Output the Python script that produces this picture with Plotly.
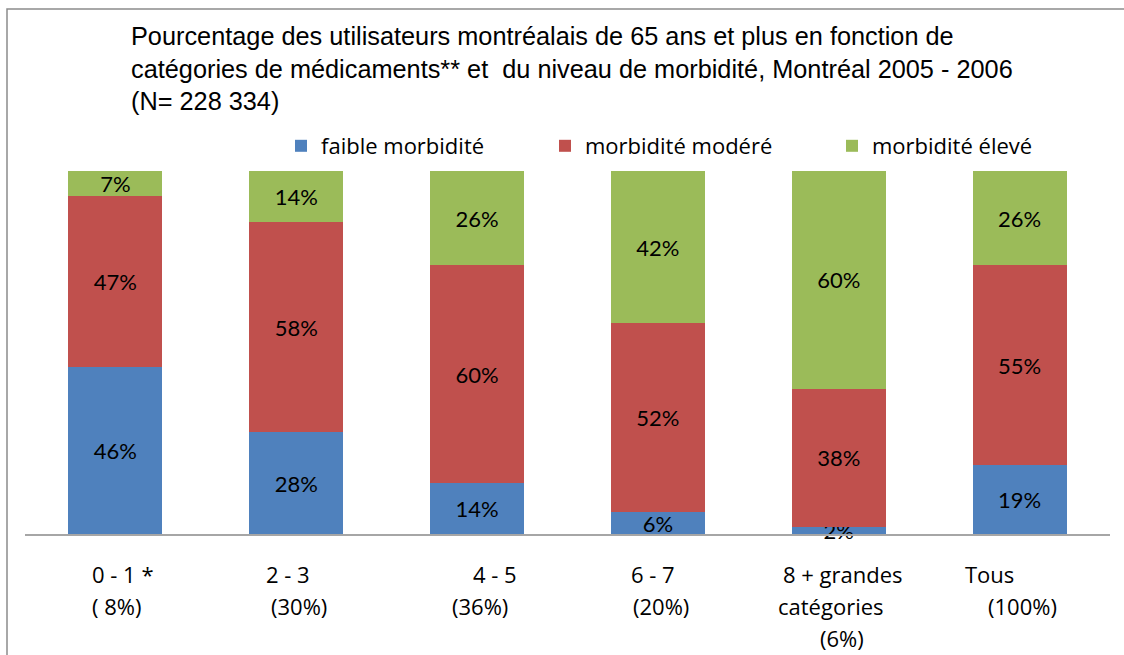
import plotly.graph_objects as go

categories = ["0 - 1 *", "2 - 3", "4 - 5", "6 - 7", "8 + grandes", "Tous"]
faible = [46, 28, 14, 6, 2, 19]
modere = [47, 58, 60, 52, 38, 55]
eleve = [7, 14, 26, 42, 60, 26]
series_names = ["faible morbidité", "morbidité modéré", "morbidité élevé"]
label_line1 = ["0 - 1 *", "2 - 3", "4 - 5", "6 - 7", "8 + grandes", "Tous"]
label_line2 = ["( 8%)", "(30%)", "(36%)", "(20%)", "catégories", "(100%)"]
label_line3 = ["", "", "", "", "(6%)", ""]
title_lines = [
    "Pourcentage des utilisateurs montréalais de 65 ans et plus en fonction de",
    "catégories de médicaments** et  du niveau de morbidité, Montréal 2005 - 2006",
    "(N= 228 334)",
]

colors = ["#4F81BD", "#C0504D", "#9BBB59"]
VAL_FONT = "Lato, 'Open Sans', sans-serif"
LABEL_FONT = "'Open Sans', Lato, sans-serif"

fig = go.Figure()
for i, (name, vals) in enumerate(zip(series_names, [faible, modere, eleve])):
    fig.add_trace(go.Bar(
        x=categories, y=vals, name=name,
        marker=dict(color=colors[i], line=dict(width=0)),
        text=[f"{v}%" for v in vals],
        textposition="inside", insidetextanchor="middle",
        constraintext="none", textangle=0, cliponaxis=False,
        textfont=dict(family=VAL_FONT, size=22, color="black"),
        legend=["legend", "legend2", "legend3"][i],
        hoverinfo="skip",
    ))

# x offsets (px) of each label line relative to category centre
off1 = [-25, -32, -6, -29, -58, -57]
off2 = [-25, -27, -27, -27, -63, -34]
off3 = [0, 0, 0, 0, -21, 0]
annotations = []
for lines, offs, ys in [(label_line1, off1, -40), (label_line2, off2, -72), (label_line3, off3, -104)]:
    for c, t, o in zip(categories, lines, offs):
        if not t:
            continue
        annotations.append(dict(
            x=c, xref="x", y=0, yref="paper", xshift=o, yshift=ys,
            text=t, showarrow=False, xanchor="left", yanchor="middle",
            font=dict(family=LABEL_FONT, size=22, color="black"),
        ))

for t, ys in zip(title_lines, [135, 102, 70]):
    annotations.append(dict(
        x=(129 - 25) / 1085, xref="paper", y=1, yref="paper", yshift=ys,
        text=t, showarrow=False, xanchor="left", yanchor="middle",
        font=dict(family="'Liberation Sans', Arial, sans-serif", size=25.3, color="black"),
    ))

leg_common = dict(orientation="h", yanchor="middle", y=1 + (171 - 146) / 363,
                  xanchor="left", bgcolor="rgba(0,0,0,0)", borderwidth=0,
                  font=dict(family=LABEL_FONT, size=22, color="black"),
                  itemwidth=30)
leg_x = [(293 - 25 - 12) / 1085, (557 - 25 - 12) / 1085, (844 - 25 - 12) / 1085]

fig.update_layout(
    barmode="stack",
    bargap=0.48,
    width=1124, height=655,
    margin=dict(l=25, r=14, t=171, b=121),
    paper_bgcolor="white", plot_bgcolor="white",
    showlegend=True,
    legend=dict(leg_common, x=leg_x[0]),
    legend2=dict(leg_common, x=leg_x[1]),
    legend3=dict(leg_common, x=leg_x[2]),
    xaxis=dict(showticklabels=False, showline=True, linecolor="#A6A6A6", linewidth=1.5,
               ticks="", showgrid=False, zeroline=False),
    yaxis=dict(range=[0, 100], visible=False, showgrid=False, zeroline=False),
    annotations=annotations,
    shapes=[dict(type="rect", xref="paper", yref="paper",
                 x0=(7 - 25) / 1085, x1=(1135 - 25) / 1085,
                 y0=-0.5, y1=(534 - 9) / 363,
                 line=dict(color="#8C8C8C", width=1.5), fillcolor="rgba(0,0,0,0)", layer="below")],
)

fig.write_html("out.html", config={"displayModeBar": False},
               post_script="document.body.style.margin='0';document.body.style.overflow='hidden';")
